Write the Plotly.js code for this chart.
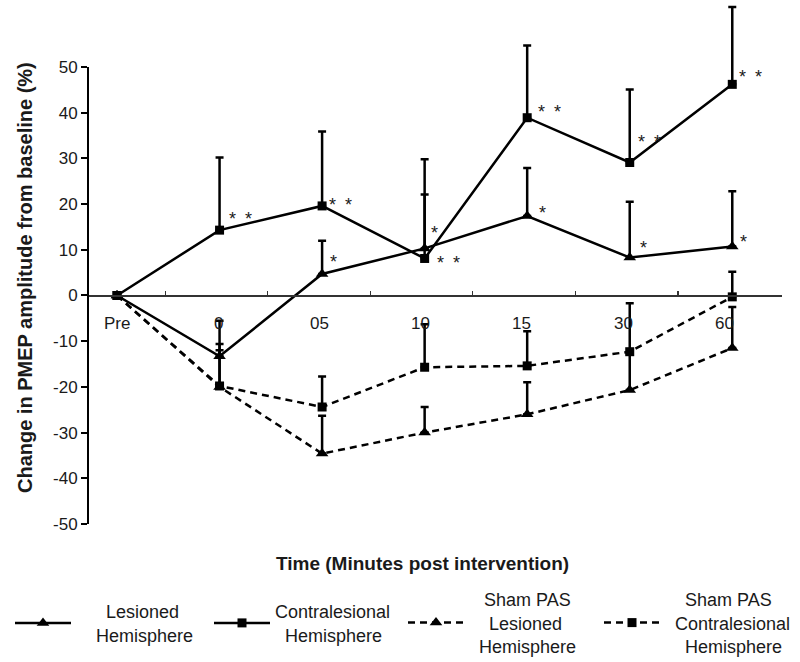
<!DOCTYPE html>
<html><head><meta charset="utf-8">
<script src="https://cdn.plot.ly/plotly-3.0.1.min.js"></script>
<style>html,body{margin:0;padding:0;background:#fff}#chart{width:800px;height:662px}</style>
</head><body><div id="chart"></div>
<script>
// ---- data ----
const timeLabels = ['Pre', '0', '05', '10', '15', '30', '60'];

const lesionedMean = [0, -13.3, 4.7, 10.3, 17.4, 8.3, 10.7];
const lesionedErr  = [0, 7.8, 7.3, 11.8, 10.5, 12.2, 12.1];
const lesionedSig  = ['', '', '*', '*', '*', '*', '*'];

const contraMean = [0, 14.3, 19.6, 8.1, 38.9, 29.1, 46.2];
const contraErr  = [0, 15.9, 16.3, 21.7, 15.8, 16.0, 16.9];
const contraSig  = ['', '**', '**', '**', '**', '**', '**'];

const shamLesMean = [0, -20.0, -34.6, -30.0, -26.0, -20.7, -11.5];
const shamLesErr  = [0, 8.0, 8.3, 5.6, 7.0, 8.0, 9.0];

const shamContraMean = [0, -19.8, -24.4, -15.7, -15.4, -12.3, -0.3];
const shamContraErr  = [0, 9.2, 6.7, 9.4, 7.6, 10.6, 5.5];

const seriesLines = [
  ['Lesioned', 'Hemisphere'],
  ['Contralesional', 'Hemisphere'],
  ['Sham PAS', 'Lesioned', 'Hemisphere'],
  ['Sham PAS', 'Contralesional', 'Hemisphere']
];
const yTicks = [-50, -40, -30, -20, -10, 0, 10, 20, 30, 40, 50];
const xTitle = 'Time (Minutes post intervention)';
const yTitle = 'Change in PMEP amplitude from baseline (%)';

// ---- layout / style constants ----
const FONT = 'Liberation Sans, Arial, Helvetica, sans-serif';
const INK = '#1a1a1a';
const NB = '\u00a0';
// pixel offsets of significance marks from their point (dx right, dy down)
const contraStarOff = [[0,0],[21,-15],[18,-5],[24,1],[22,-10],[20,-25],[18,-11]];
const lesStarOff    = [[0,0],[0,0],[11,-16],[10,-19],[15,-7],[14,-14],[11,-9]];
// legend: leading no-break spaces per line (to centre the lines), left edge px of each entry
const legendPad = [[6, 4], [0, 2], [3, 4, 2], [4, 2, 4]];
const legendLeft = [10, 209, 403, 599];
const legendCenterY = 623;

const xIdx = timeLabels.map((_, i) => i);
const legendIds = ['legend', 'legend2', 'legend3', 'legend4'];

function legendName(k) {
  return seriesLines[k].map((ln, j) => NB.repeat(legendPad[k][j]) + ln).join('<br>');
}

function trace(k, mean, err, symbol, dash, msize) {
  return {
    type: 'scatter', mode: 'lines+markers', name: legendName(k), legend: legendIds[k],
    x: xIdx, y: mean,
    line: {color: '#000', width: 2.5, dash: dash},
    marker: {symbol: symbol, size: msize, color: '#000', line: {width: 0}},
    error_y: {type: 'data', symmetric: false, array: err,
              arrayminus: err.map(() => 0), color: '#000', thickness: 2.5, width: 4},
    cliponaxis: false
  };
}

const data = [
  trace(0, lesionedMean, lesionedErr, 'triangle-up', 'solid', 11),
  trace(1, contraMean, contraErr, 'square', 'solid', 9),
  trace(2, shamLesMean, shamLesErr, 'triangle-up', '7px,5px', 11),
  trace(3, shamContraMean, shamContraErr, 'square', '7px,5px', 9)
];

const annotations = [];
// category labels sitting under the zero line
timeLabels.forEach((t, i) => {
  annotations.push({x: i, y: 0, xref: 'x', yref: 'y', text: t, showarrow: false,
    xanchor: 'center', yanchor: 'middle', yshift: -28, xshift: -1.3 * i,
    font: {family: FONT, size: 17, color: INK}});
});
function stars(sig, mean, off) {
  sig.forEach((s, i) => {
    if (!s) return;
    annotations.push({x: i, y: mean[i], xref: 'x', yref: 'y',
      text: s.split('').join('\u2002'), showarrow: false,
      xanchor: 'center', yanchor: 'middle',
      xshift: off[i][0], yshift: -(off[i][1] + 4),
      font: {family: FONT, size: 18, color: INK}});
  });
}
stars(contraSig, contraMean, contraStarOff);
stars(lesionedSig, lesionedMean, lesStarOff);

annotations.push({xref: 'paper', yref: 'paper', x: 0.4827, y: -0.0749, text: '<b>' + xTitle + '</b>',
  showarrow: false, xanchor: 'center', yanchor: 'middle', font: {family: FONT, size: 19, color: INK}});
annotations.push({xref: 'paper', yref: 'paper', x: -0.0908, y: 0.474, text: '<b>' + yTitle + '</b>',
  showarrow: false, textangle: -90, xanchor: 'center', yanchor: 'middle', font: {family: FONT, size: 20, color: INK}});

const yMin = -50, yMax = 64;
const layout = {
  width: 800, height: 662,
  margin: {l: 88, r: 18, t: 3, b: 138, autoexpand: false},
  paper_bgcolor: '#fff', plot_bgcolor: '#fff',
  showlegend: true,
  font: {family: FONT, color: INK},
  xaxis: {
    range: [-0.283, 6.485], anchor: 'free', position: (0 - yMin) / (yMax - yMin),
    showline: true, linecolor: '#333', linewidth: 1.2, showgrid: false, zeroline: false,
    tickmode: 'array', tickvals: xIdx.slice(0, -1).map(i => i + 0.47),
    ticks: 'inside', ticklen: 4, tickcolor: '#333', tickwidth: 1.2, showticklabels: false
  },
  yaxis: {
    range: [yMin, yMax], showline: false, showgrid: false, zeroline: false,
    tickmode: 'array', tickvals: yTicks, ticktext: yTicks.map(String),
    ticks: 'outside', ticklen: 6, tickwidth: 2, tickcolor: '#000',
    tickfont: {family: FONT, size: 17, color: INK}
  },
  shapes: [{type: 'line', xref: 'paper', yref: 'y', x0: 0, x1: 0, y0: yMin, y1: 50,
            line: {color: '#000', width: 2}}],
  annotations: annotations
};
legendIds.forEach((id, k) => {
  layout[id] = {
    orientation: 'v', xref: 'container', yref: 'container',
    x: legendLeft[k] / 800, xanchor: 'left', y: 1 - legendCenterY / 662, yanchor: 'middle',
    font: {family: FONT, size: 18, color: INK},
    itemwidth: 56, valign: 'middle', bgcolor: 'rgba(0,0,0,0)', borderwidth: 0
  };
});

Plotly.newPlot('chart', data, layout, {displayModeBar: false, staticPlot: true});
</script>
</body></html>
